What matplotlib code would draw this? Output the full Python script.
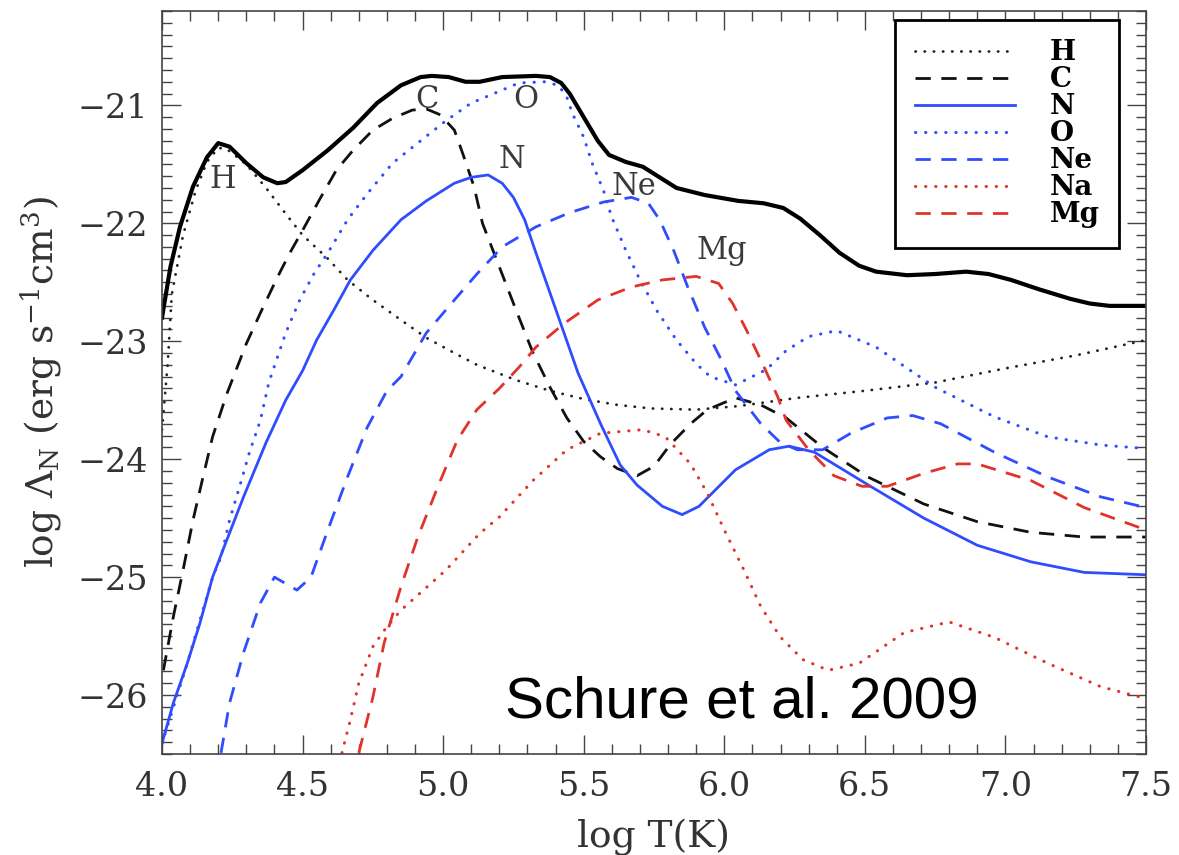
import matplotlib
matplotlib.use("Agg")
import matplotlib.pyplot as plt

# total cooling curve (thick black)
tot_x = [4.00, 4.03, 4.064, 4.11, 4.16, 4.20, 4.24, 4.30, 4.36, 4.41, 4.44, 4.50, 4.59, 4.68, 4.765,
         4.85, 4.92, 4.96, 5.02, 5.08, 5.13, 5.21, 5.33, 5.38, 5.42, 5.45, 5.50, 5.55, 5.59, 5.65,
         5.71, 5.77, 5.83, 5.93, 6.05, 6.14, 6.21, 6.27, 6.34, 6.41, 6.48, 6.54, 6.65, 6.75, 6.86,
         6.94, 7.02, 7.12, 7.23, 7.30, 7.37, 7.50]
tot_y = [-22.80, -22.37, -22.03, -21.69, -21.44, -21.32, -21.35, -21.49, -21.61, -21.66, -21.65, -21.55, -21.38, -21.19, -20.98,
         -20.83, -20.76, -20.75, -20.76, -20.80, -20.80, -20.76, -20.75, -20.76, -20.81, -20.90, -21.10, -21.30, -21.42, -21.48,
         -21.52, -21.61, -21.70, -21.76, -21.81, -21.83, -21.87, -21.96, -22.10, -22.25, -22.36, -22.41, -22.44, -22.43, -22.41,
         -22.43, -22.48, -22.56, -22.64, -22.68, -22.70, -22.70]

# H (black dotted)
h_x = [4.00, 4.02, 4.035, 4.075, 4.12, 4.16, 4.20, 4.23, 4.30, 4.37, 4.45, 4.50, 4.59, 4.66, 4.75, 4.85,
       4.94, 5.04, 5.12, 5.26, 5.38, 5.50, 5.62, 5.74, 5.90, 6.05, 6.26, 6.50, 6.75, 7.00, 7.25, 7.50]
h_y = [-23.75, -23.20, -22.60, -22.10, -21.72, -21.48, -21.36, -21.37, -21.50, -21.70, -21.95, -22.10, -22.30, -22.48, -22.65, -22.82,
       -22.97, -23.10, -23.20, -23.33, -23.42, -23.49, -23.54, -23.57, -23.58, -23.55, -23.48, -23.42, -23.35, -23.23, -23.12, -22.99]

# C (black dashed)
c_x = [4.005, 4.04, 4.075, 4.11, 4.146, 4.18, 4.23, 4.30, 4.35, 4.41, 4.455, 4.50, 4.56, 4.62, 4.68, 4.75,
       4.82, 4.89, 4.94, 4.99, 5.04, 5.07, 5.11, 5.14, 5.20, 5.26, 5.32, 5.38, 5.44, 5.50, 5.56, 5.62,
       5.69, 5.75, 5.81, 5.88, 5.94, 6.04, 6.13, 6.22, 6.35, 6.51, 6.71, 6.90, 7.09, 7.28, 7.50]
c_y = [-25.79, -25.34, -24.94, -24.52, -24.15, -23.81, -23.45, -23.02, -22.76, -22.46, -22.25, -22.06, -21.80, -21.55, -21.38, -21.21,
       -21.11, -21.04, -21.03, -21.08, -21.21, -21.41, -21.69, -22.00, -22.37, -22.74, -23.10, -23.39, -23.65, -23.85, -23.98, -24.08,
       -24.14, -24.06, -23.87, -23.70, -23.58, -23.48, -23.54, -23.65, -23.90, -24.15, -24.38, -24.53, -24.62, -24.66, -24.66]

# N (blue solid)
n_x = [4.00, 4.04, 4.09, 4.135, 4.18, 4.22, 4.29, 4.37, 4.44, 4.50, 4.55, 4.61, 4.67, 4.75, 4.85, 4.94,
       5.04, 5.10, 5.16, 5.21, 5.25, 5.29, 5.33, 5.38, 5.43, 5.48, 5.56, 5.63, 5.69, 5.78, 5.85, 5.91,
       6.04, 6.16, 6.23, 6.32, 6.52, 6.71, 6.90, 7.09, 7.28, 7.50]
n_y = [-26.41, -26.07, -25.73, -25.39, -25.00, -24.75, -24.32, -23.86, -23.50, -23.25, -22.99, -22.74, -22.48, -22.23, -21.97, -21.81,
       -21.66, -21.61, -21.59, -21.66, -21.78, -21.97, -22.25, -22.59, -22.93, -23.27, -23.70, -24.05, -24.22, -24.40, -24.47, -24.40,
       -24.09, -23.92, -23.89, -23.94, -24.23, -24.50, -24.73, -24.87, -24.96, -24.98]

# O (blue dotted)
o_x = [4.00, 4.09, 4.18, 4.21, 4.24, 4.28, 4.31, 4.35, 4.38, 4.44, 4.49, 4.54, 4.59, 4.66, 4.73, 4.82,
       4.92, 5.01, 5.10, 5.19, 5.27, 5.36, 5.41, 5.44, 5.46, 5.50, 5.53, 5.57, 5.60, 5.65, 5.70, 5.76,
       5.83, 5.90, 5.95, 6.04, 6.15, 6.22, 6.30, 6.40, 6.54, 6.75, 6.96, 7.15, 7.34, 7.50]
o_y = [-26.41, -25.73, -25.00, -24.83, -24.52, -24.20, -23.95, -23.67, -23.35, -22.93, -22.65, -22.43, -22.25, -21.97, -21.75, -21.49,
       -21.30, -21.13, -20.98, -20.89, -20.81, -20.80, -20.83, -20.93, -21.07, -21.27, -21.49, -21.72, -21.95, -22.23, -22.48, -22.74,
       -22.99, -23.19, -23.30, -23.37, -23.24, -23.08, -22.96, -22.91, -23.05, -23.39, -23.64, -23.81, -23.88, -23.91]

# Ne (blue dashed)
ne_x = [4.21, 4.24, 4.29, 4.35, 4.40, 4.48, 4.53, 4.59, 4.66, 4.73, 4.80, 4.85, 4.94, 5.04, 5.12, 5.21,
        5.33, 5.45, 5.57, 5.67, 5.73, 5.77, 5.82, 5.87, 5.93, 5.99, 6.04, 6.13, 6.20, 6.26, 6.35, 6.45,
        6.58, 6.67, 6.77, 6.96, 7.15, 7.34, 7.50]
ne_y = [-26.49, -26.07, -25.64, -25.22, -25.00, -25.11, -25.00, -24.60, -24.15, -23.73, -23.42, -23.30, -22.93, -22.65, -22.43, -22.20,
        -22.03, -21.91, -21.82, -21.78, -21.83, -21.97, -22.23, -22.54, -22.88, -23.16, -23.42, -23.70, -23.86, -23.92, -23.92, -23.78,
        -23.65, -23.63, -23.70, -23.94, -24.15, -24.32, -24.41]

# Na (red dotted)
na_x = [4.64, 4.67, 4.70, 4.75, 4.80, 4.85, 4.93, 5.01, 5.13, 5.20, 5.32, 5.44, 5.56, 5.71, 5.79, 5.88,
        5.94, 6.00, 6.07, 6.13, 6.20, 6.28, 6.37, 6.48, 6.64, 6.80, 6.96, 7.15, 7.34, 7.50]
na_y = [-26.49, -26.21, -25.90, -25.59, -25.42, -25.28, -25.11, -24.94, -24.63, -24.49, -24.18, -23.92, -23.78, -23.75, -23.81, -24.04,
        -24.29, -24.60, -24.94, -25.25, -25.51, -25.70, -25.79, -25.73, -25.47, -25.38, -25.51, -25.73, -25.93, -26.03]

# Mg (red dashed)
mg_x = [4.70, 4.75, 4.79, 4.85, 4.91, 4.98, 5.05, 5.12, 5.20, 5.27, 5.33, 5.43, 5.55, 5.67, 5.78, 5.90,
        5.98, 6.03, 6.08, 6.13, 6.19, 6.22, 6.30, 6.39, 6.49, 6.58, 6.71, 6.83, 6.90, 7.09, 7.28, 7.50]
mg_y = [-26.49, -26.02, -25.56, -25.08, -24.66, -24.24, -23.84, -23.58, -23.40, -23.22, -23.05, -22.85, -22.65, -22.54, -22.48, -22.45,
        -22.51, -22.68, -22.91, -23.16, -23.47, -23.67, -23.92, -24.14, -24.23, -24.23, -24.12, -24.04, -24.04, -24.18, -24.41, -24.60]

peak_labels = ["H", "C", "O", "N", "Ne", "Mg"]
peak_x = [4.214, 4.943, 5.295, 5.246, 5.68, 5.99]
peak_y = [-21.70, -21.02, -21.02, -21.53, -21.76, -22.30]

xticks = [4.0, 4.5, 5.0, 5.5, 6.0, 6.5, 7.0, 7.5]
yticks = [-21, -22, -23, -24, -25, -26]

plt.rcParams['font.family'] = 'DejaVu Serif'
plt.rcParams['mathtext.fontset'] = 'dejavuserif'

blue = '#2f4dff'
red = '#e2332b'
dot = (0, (0.1, 3.2))
dash = (0, (5.5, 3.8))

fig = plt.figure(figsize=(11.79, 8.55), dpi=100)
ax = fig.add_axes([0.1374, 0.1181, 0.8346, 0.8690])

ax.plot(h_x, h_y, color='#222222', lw=2.0, linestyle=dot, dash_capstyle='round', label='H')
ax.plot(c_x, c_y, color='#111111', lw=2.0, linestyle=dash, label='C')
ax.plot(n_x, n_y, color=blue, lw=2.0, label='N')
ax.plot(o_x, o_y, color=blue, lw=2.2, linestyle=dot, dash_capstyle='round', label='O')
ax.plot(ne_x, ne_y, color=blue, lw=2.0, linestyle=dash, label='Ne')
ax.plot(na_x, na_y, color=red, lw=2.2, linestyle=dot, dash_capstyle='round', label='Na')
ax.plot(mg_x, mg_y, color=red, lw=2.0, linestyle=dash, label='Mg')
ax.plot(tot_x, tot_y, color='black', lw=3.0, solid_joinstyle='round')

for s, x, y in zip(peak_labels, peak_x, peak_y):
    ax.text(x, y, s, ha='center', va='baseline', fontsize=22, color='#3a3a3a')

ax.text(5.221, -26.19, 'Schure et al. 2009', fontsize=42, family='Liberation Sans',
        color='black', ha='left', va='baseline')

ax.set_xlim(4.0, 7.5)
ax.set_ylim(-26.5, -20.2)
ax.set_xticks(xticks)
ax.set_xticklabels(['%.1f' % t for t in xticks])
ax.set_yticks(yticks)
ax.set_yticklabels(['\u2212%d' % abs(t) for t in yticks])
ax.xaxis.set_minor_locator(matplotlib.ticker.MultipleLocator(0.1))
ax.yaxis.set_minor_locator(matplotlib.ticker.MultipleLocator(0.1))
ax.tick_params(which='both', direction='in', top=True, right=True, color='#444444', width=1.0)
ax.tick_params(which='major', length=14, labelsize=24, labelcolor='#333333')
ax.tick_params(which='minor', length=7)
ax.tick_params(axis='x', which='major', pad=12)
ax.tick_params(axis='y', which='major', pad=10)
for sp in ax.spines.values():
    sp.set_color('#444444')
    sp.set_linewidth(1.2)

ax.set_xlabel('log T(K)', fontsize=27, color='#333333', labelpad=12)
ax.set_ylabel(r'log $\Lambda_{\rm N}$ (erg s$^{-1}$cm$^{3}$)', fontsize=27, color='#333333', labelpad=10)

leg = ax.legend(loc='upper right', bbox_to_anchor=(0.9726, 0.988),
                prop={'weight': 'bold', 'size': 20}, handlelength=3.6, handletextpad=1.25,
                labelspacing=0.0, borderpad=0.7, fancybox=False, framealpha=1,
                edgecolor='black', borderaxespad=0)
leg.get_frame().set_linewidth(2.0)

fig.savefig('out.png', dpi=100)
